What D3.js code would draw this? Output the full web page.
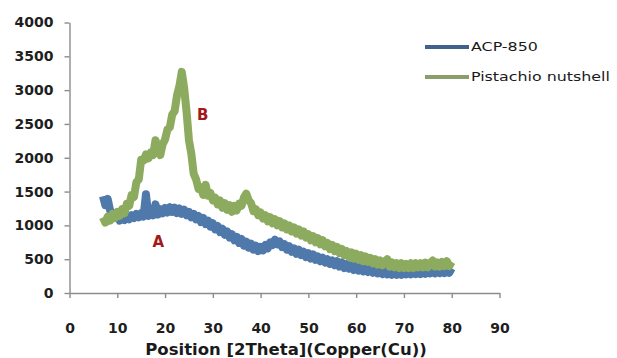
<!DOCTYPE html>
<html>
<head>
<meta charset="utf-8">
<script src="https://cdn.jsdelivr.net/npm/d3@7"></script>
<style>
  html, body { margin: 0; padding: 0; background: #ffffff; }
  svg { display: block; }
  text { font-family: "DejaVu Sans", Verdana, sans-serif; }
</style>
</head>
<body>
<svg id="chart" width="617" height="358"></svg>
<script>
// XRD scan: 2θ from 7° to 80°, sampled every 0.5°
const scanStart = 7;
const scanStep = 0.5;

// Intensity (counts) of the activated carbon ACP-850
const acp850 = [
  1430, 1300, 1390, 1220, 1180, 1110, 1130, 1070, 1120, 1080,
  1140, 1090, 1150, 1110, 1170, 1120, 1180, 1130, 1460, 1140,
  1210, 1150, 1310, 1160, 1240, 1180, 1260, 1190, 1270, 1200,
  1260, 1180, 1250, 1170, 1230, 1150, 1200, 1120, 1170, 1090,
  1140, 1050, 1110, 1020, 1070, 980, 1030, 940, 990, 900,
  950, 860, 910, 820, 870, 780, 830, 740, 800, 700,
  760, 670, 730, 640, 700, 620, 680, 630, 710, 660,
  750, 710, 790, 720, 760, 680, 720, 640, 690, 610,
  660, 580, 640, 560, 610, 530, 590, 510, 570, 490,
  540, 470, 520, 450, 500, 430, 480, 410, 470, 390,
  450, 370, 430, 360, 410, 340, 400, 330, 390, 320,
  380, 310, 370, 300, 360, 290, 350, 280, 340, 275,
  335, 270, 330, 270, 330, 270, 335, 275, 335, 275,
  340, 280, 345, 280, 340, 285, 350, 290, 345, 290,
  350, 295, 355, 295, 360, 300, 365
];

// Intensity (counts) of the raw pistachio nutshell
const pistachio = [
  1120, 1040, 1130, 1070, 1170, 1110, 1200, 1140, 1240, 1180,
  1320, 1290, 1450, 1420, 1640, 1680, 1970, 1960, 2050, 1990,
  2080, 2040, 2260, 2130, 2040, 2200, 2270, 2420, 2450, 2640,
  2690, 2920, 3060, 3270, 3030, 2680, 2260, 2060, 1760, 1680,
  1540, 1560, 1450, 1600, 1440, 1480, 1370, 1410, 1310, 1370,
  1260, 1330, 1230, 1300, 1200, 1290, 1220, 1320, 1290, 1410,
  1470, 1370, 1330, 1210, 1240, 1150, 1190, 1100, 1150, 1060,
  1120, 1030, 1090, 1000, 1060, 970, 1030, 940, 1000, 910,
  970, 880, 940, 850, 910, 820, 870, 780, 840, 750,
  810, 720, 780, 690, 740, 650, 710, 620, 680, 590,
  650, 560, 620, 530, 600, 510, 580, 490, 560, 470,
  540, 460, 520, 440, 500, 420, 480, 410, 470, 500,
  390, 450, 380, 440, 370, 440, 370, 430, 370, 440,
  370, 440, 380, 440, 380, 450, 380, 440, 480, 390,
  450, 390, 460, 400, 470, 400, 460
];

const seriesNames = ["ACP-850", "Pistachio nutshell"];
const seriesColors = ["#5079ab", "#8dab5e"];
const legendColors = ["#41618a", "#8a9e6c"];

const xTicks = [0, 10, 20, 30, 40, 50, 60, 70, 80, 90];
const yTicks = [0, 500, 1000, 1500, 2000, 2500, 3000, 3500, 4000];

const xTitle = "Position [2Theta](Copper(Cu))";

// Curve annotations: [label, 2θ, counts]
const annotations = [["A", 18.6, 760], ["B", 27.9, 2640]];

const svg = d3.select("#chart");
const defs = svg.append("defs");
defs.append("filter").attr("id", "soft")
  .append("feGaussianBlur").attr("stdDeviation", 0.5);

const x = d3.scaleLinear().domain([0, 90]).range([69.5, 499.5]);
const y = d3.scaleLinear().domain([0, 4000]).range([293, 22.5]);

const axisColor = "#8c8c8c";

// Y axis
const yAxis = svg.append("g")
  .attr("transform", `translate(${x(0)},0)`)
  .call(d3.axisLeft(y).tickValues(yTicks).tickFormat(d3.format("d"))
    .tickSize(5).tickSizeOuter(0).tickPadding(11));
// X axis
const xAxis = svg.append("g")
  .attr("transform", `translate(0,${y(0)})`)
  .call(d3.axisBottom(x).tickValues(xTicks).tickFormat(d3.format("d"))
    .tickSize(5).tickSizeOuter(0).tickPadding(25));

[xAxis, yAxis].forEach(g => {
  g.select(".domain").attr("stroke", axisColor).attr("stroke-width", 1.4);
  g.selectAll(".tick line").attr("stroke", axisColor).attr("stroke-width", 1.4);
  g.selectAll(".tick text")
    .attr("fill", "#1e1e1e")
    .style("font-size", "14px")
    .style("font-weight", "bold")
    .style("font-family", "'DejaVu Sans', Verdana, sans-serif");
});

// Axis title
svg.append("text")
  .attr("x", 286)
  .attr("y", 355)
  .attr("text-anchor", "middle")
  .attr("fill", "#1a1a1a")
  .style("font-size", "16.5px")
  .style("font-weight", "bold")
  .text(xTitle);

// Data lines
const toPoints = arr => arr.map((v, i) => [scanStart + i * scanStep, v]);
const line = d3.line().x(d => x(d[0])).y(d => y(d[1]));

const plot = svg.append("g").attr("filter", "url(#soft)");

[acp850, pistachio].forEach((arr, k) => {
  plot.append("path")
    .datum(toPoints(arr))
    .attr("fill", "none")
    .attr("stroke", seriesColors[k])
    .attr("stroke-width", 8)
    .attr("stroke-linejoin", "round")
    .attr("stroke-linecap", "butt")
    .attr("d", line);
});

// Annotations
svg.selectAll(".annot")
  .data(annotations)
  .join("text")
  .attr("class", "annot")
  .attr("x", d => x(d[1]))
  .attr("y", d => y(d[2]))
  .attr("text-anchor", "middle")
  .attr("dy", "0.36em")
  .attr("fill", "#a31818")
  .style("font-size", "15px")
  .style("font-weight", "bold")
  .text(d => d[0]);

// Legend (labels widened to the chart's broad lettering)
const legend = svg.append("g").attr("transform", "translate(425,47)");
seriesNames.forEach((name, k) => {
  const g = legend.append("g").attr("transform", `translate(0,${k * 30})`);
  g.append("line")
    .attr("x1", 0).attr("x2", 44)
    .attr("y1", 0).attr("y2", 0)
    .attr("stroke", legendColors[k])
    .attr("stroke-width", 4);
  g.append("text")
    .attr("transform", "translate(46,0) scale(1.27,1)")
    .attr("dy", "0.35em")
    .attr("fill", "#1a1a1a")
    .style("font-size", "12.5px")
    .text(name);
});
</script>
</body>
</html>
